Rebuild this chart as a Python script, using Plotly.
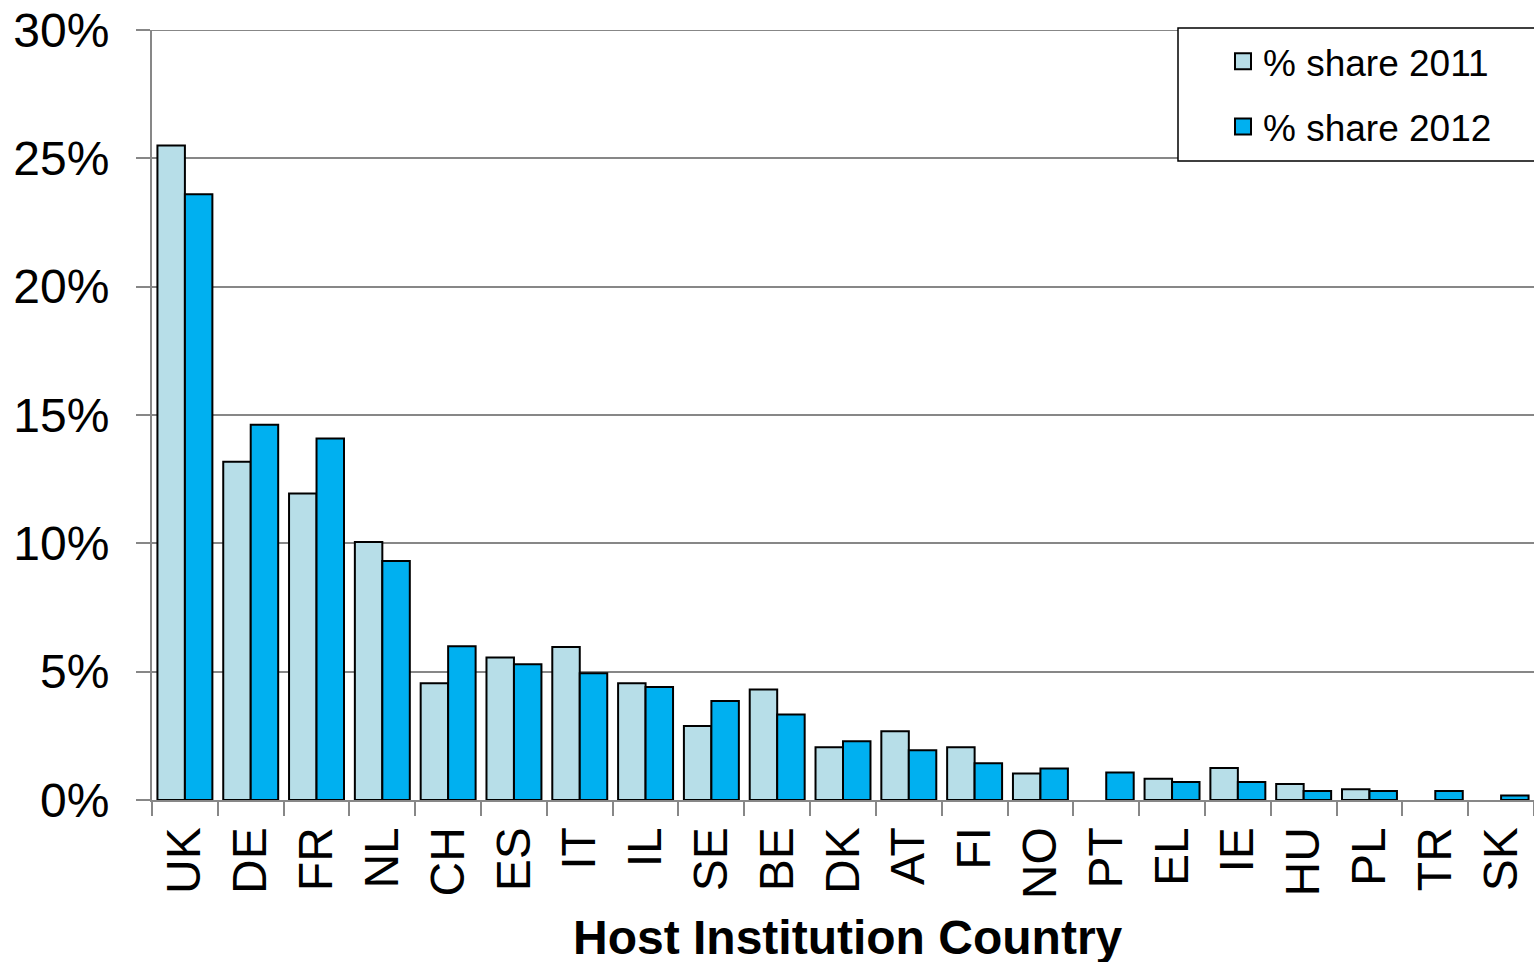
import plotly.graph_objects as go

countries = ["UK", "DE", "FR", "NL", "CH", "ES", "IT", "IL", "SE", "BE", "DK",
             "AT", "FI", "NO", "PT", "EL", "IE", "HU", "PL", "TR", "SK"]
share_2011 = [25.5, 13.18, 11.94, 10.05, 4.55, 5.55, 5.96, 4.55, 2.88, 4.31, 2.06,
              2.68, 2.06, 1.03, None, 0.83, 1.25, 0.62, 0.42, None, None]
share_2012 = [23.6, 14.62, 14.08, 9.31, 5.99, 5.29, 4.94, 4.40, 3.86, 3.33, 2.29,
              1.94, 1.43, 1.23, 1.07, 0.70, 0.70, 0.35, 0.35, 0.35, 0.18]
series_names = ["% share 2011", "% share 2012"]
series_colors = ["#B7DEE8", "#00B0F0"]
y_ticks = [0, 5, 10, 15, 20, 25, 30]

def frac(vals):
    return [None if v is None else v / 100 for v in vals]

FONT = "Liberation Sans, Arial, sans-serif"
GRID = "#878787"

fig = go.Figure()
for name, vals, col, grp in zip(series_names, [share_2011, share_2012], series_colors, ["a", "b"]):
    fig.add_trace(go.Bar(x=countries, y=frac(vals), name=name, showlegend=False,
                         marker=dict(color=col, line=dict(color="black", width=2))))
    # legend proxy with a larger square swatch
    fig.add_trace(go.Scatter(x=[None], y=[None], mode="markers", name=name,
                             legendgroup=grp, showlegend=True,
                             marker=dict(symbol="square", size=16, color=col,
                                         line=dict(color="black", width=2))))

W, H = 1534, 962
L, T, B = 152, 30, 162
PW, PH = W - L, H - T - B
fig.update_layout(
    width=W, height=H,
    margin=dict(l=L, r=0, t=T, b=B, autoexpand=False),
    plot_bgcolor="white", paper_bgcolor="white",
    font=dict(family=FONT, color="black"),
    barmode="group", bargap=0.165, bargroupgap=0,
    showlegend=True,
    legend=dict(x=(1223 - L) / PW, y=0.999, xanchor="left", yanchor="top",
                borderwidth=0, bgcolor="rgba(0,0,0,0)", itemsizing="trace",
                font=dict(size=37, family=FONT), tracegroupgap=14,
                itemwidth=30),
    xaxis=dict(range=[-0.5, 20.5], tickangle=-90, tickson="boundaries",
               ticks="outside", ticklen=14, tickcolor=GRID, tickwidth=2,
               showline=True, linecolor=GRID, linewidth=2,
               tickfont=dict(size=48, family=FONT), showgrid=False,
               ticklabelstandoff=6, ticklabeloverflow="allow"),
    yaxis=dict(range=[0, 0.30], tickvals=[v / 100 for v in y_ticks],
               tickformat=".0%", ticks="outside", ticklen=14, tickcolor=GRID,
               tickwidth=2, showline=True, linecolor=GRID, linewidth=2,
               showgrid=True, gridcolor=GRID, gridwidth=1.5, zeroline=False,
               tickfont=dict(size=48, family=FONT), ticklabelstandoff=17,
               ticklabeloverflow="allow"),
)
# top gridline at 30%
fig.add_shape(type="line", xref="paper", yref="y", x0=0, x1=1,
              y0=y_ticks[-1] / 100, y1=y_ticks[-1] / 100,
              line=dict(color=GRID, width=2), layer="below")
# legend frame (extends past the right edge as in the reference)
fig.add_shape(type="rect", xref="paper", yref="paper",
              x0=(1178 - L) / PW, x1=1.05, y0=(H - B - 161) / PH, y1=1 + 2 / PH,
              line=dict(color="black", width=1.5), fillcolor="white", layer="above")
fig.add_annotation(text="<b>Host Institution Country</b>", xref="paper", yref="paper",
                   x=0.5, y=0, xshift=5, yshift=-137, xanchor="center", yanchor="middle",
                   showarrow=False, font=dict(size=48, family=FONT, color="black"))

fig.write_html(
    "out.html",
    config={"displayModeBar": False},
    post_script="document.body.style.margin='0';document.body.style.overflow='hidden';"
                "document.documentElement.style.overflow='hidden';",
)
